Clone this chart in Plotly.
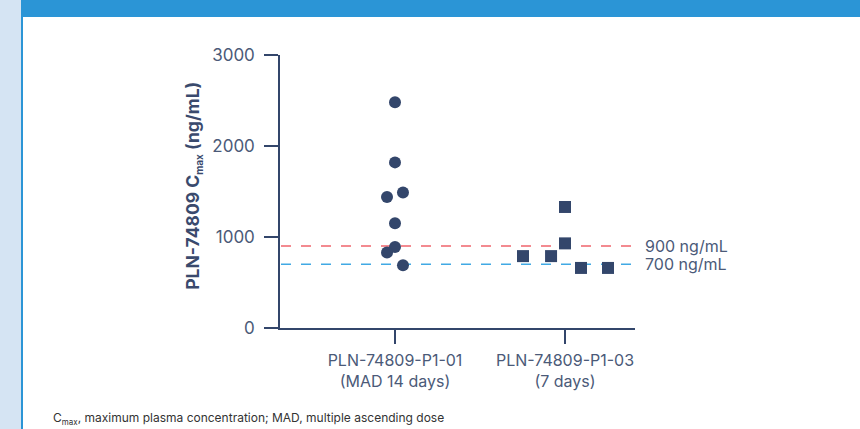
import plotly.graph_objects as go

# ---- data ----
categories = ["PLN-74809-P1-01<br>(MAD 14 days)", "PLN-74809-P1-03<br>(7 days)"]
p101_values = [2480, 1820, 1440, 1490, 1150, 890, 830, 690]
p101_jitter = [0.0, 0.0, -0.047, 0.047, 0.0, 0.0, -0.047, 0.047]
p103_values = [1330, 930, 790, 790, 660, 660]
p103_jitter = [0.0, 0.0, -0.247, -0.082, 0.094, 0.253]
thresholds = [900, 700]
threshold_labels = ["900 ng/mL", "700 ng/mL"]
threshold_colors = ["#f0646c", "#41a9e4"]
y_ticks = [0, 1000, 2000, 3000]

# ---- layout geometry (pixels) ----
W_FIG, H_FIG = 860, 429
L, R, T, B = 280, 635, 55, 328.5
PW, PH = R - L, B - T

def px(x):
    return (x - L) / PW

def py(y):
    return (B - y) / PH

NAVY = "#33466b"
TEXT = "#4b5a78"
FONT = "Inter"

fig = go.Figure()

fig.add_trace(go.Scatter(
    x=[1 + j for j in p101_jitter], y=p101_values, mode="markers",
    marker=dict(symbol="circle", size=12, color=NAVY, line=dict(width=0)),
    showlegend=False, hoverinfo="y"))
fig.add_trace(go.Scatter(
    x=[2 + j for j in p103_jitter], y=p103_values, mode="markers",
    marker=dict(symbol="square", size=12, color=NAVY, line=dict(width=0)),
    showlegend=False, hoverinfo="y"))

shapes = [
    dict(type="rect", xref="paper", yref="paper", x0=px(-5), x1=px(21), y0=py(440), y1=py(-5),
         fillcolor="#d5e4f3", line=dict(width=0), layer="below"),
    dict(type="rect", xref="paper", yref="paper", x0=px(21), x1=px(23), y0=py(440), y1=py(-5),
         fillcolor="#2b95d6", line=dict(width=0), layer="below"),
    dict(type="rect", xref="paper", yref="paper", x0=px(21), x1=px(865), y0=py(17), y1=py(-5),
         fillcolor="#2b95d6", line=dict(width=0), layer="below"),
]
annotations = []
for val, lab, col in zip(thresholds, threshold_labels, threshold_colors):
    shapes.append(dict(type="line", xref="paper", yref="y", x0=px(281), x1=px(632), y0=val, y1=val,
                       line=dict(color=col, width=1.5, dash="10px,10px"), layer="below"))
    annotations.append(dict(xref="paper", yref="y", x=px(643), y=val, text=lab, showarrow=False,
                            xanchor="left", yanchor="middle",
                            font=dict(family=FONT, size=16, color=TEXT)))

annotations.append(dict(xref="paper", yref="paper", x=px(194), y=py(186), textangle=-90,
                        text="PLN-74809 C<sub><span style='font-size:10px'>max</span></sub> (ng/mL)",
                        showarrow=False, xanchor="center", yanchor="middle",
                        font=dict(family=FONT, size=17.5, color="#3a4a6d", weight=700)))
annotations.append(dict(xref="paper", yref="paper", x=px(51), y=py(419),
                        text="C<sub><span style='font-size:8px'>max</span></sub>, maximum plasma concentration; MAD, multiple ascending dose",
                        showarrow=False, xanchor="left", yanchor="middle",
                        font=dict(family=FONT, size=12, color="#333333")))

fig.update_layout(
    width=W_FIG, height=H_FIG,
    margin=dict(l=L, r=W_FIG - R, t=T, b=H_FIG - B, autoexpand=False),
    paper_bgcolor="white", plot_bgcolor="white",
    shapes=shapes, annotations=annotations,
    xaxis=dict(range=[1 - 115 / 170, 2 + 70 / 170], tickvals=[1, 2], ticktext=categories,
               showgrid=False, zeroline=False, showline=True, linecolor=NAVY, linewidth=1.5,
               ticks="outside", ticklen=14, tickwidth=1.5, tickcolor=NAVY,
               ticklabelstandoff=3,
               tickfont=dict(family=FONT, size=16, color=TEXT)),
    yaxis=dict(range=[0, 3000], tickvals=y_ticks, showgrid=False, zeroline=False,
               showline=True, linecolor=NAVY, linewidth=1.5,
               ticks="outside", ticklen=14, tickwidth=1.5, tickcolor=NAVY,
               ticklabelstandoff=6,
               tickfont=dict(family=FONT, size=17, color=TEXT)),
)

fig.write_html("out.html", config={"displayModeBar": False},
               post_script="document.body.style.margin='0';document.body.style.overflow='hidden';")
